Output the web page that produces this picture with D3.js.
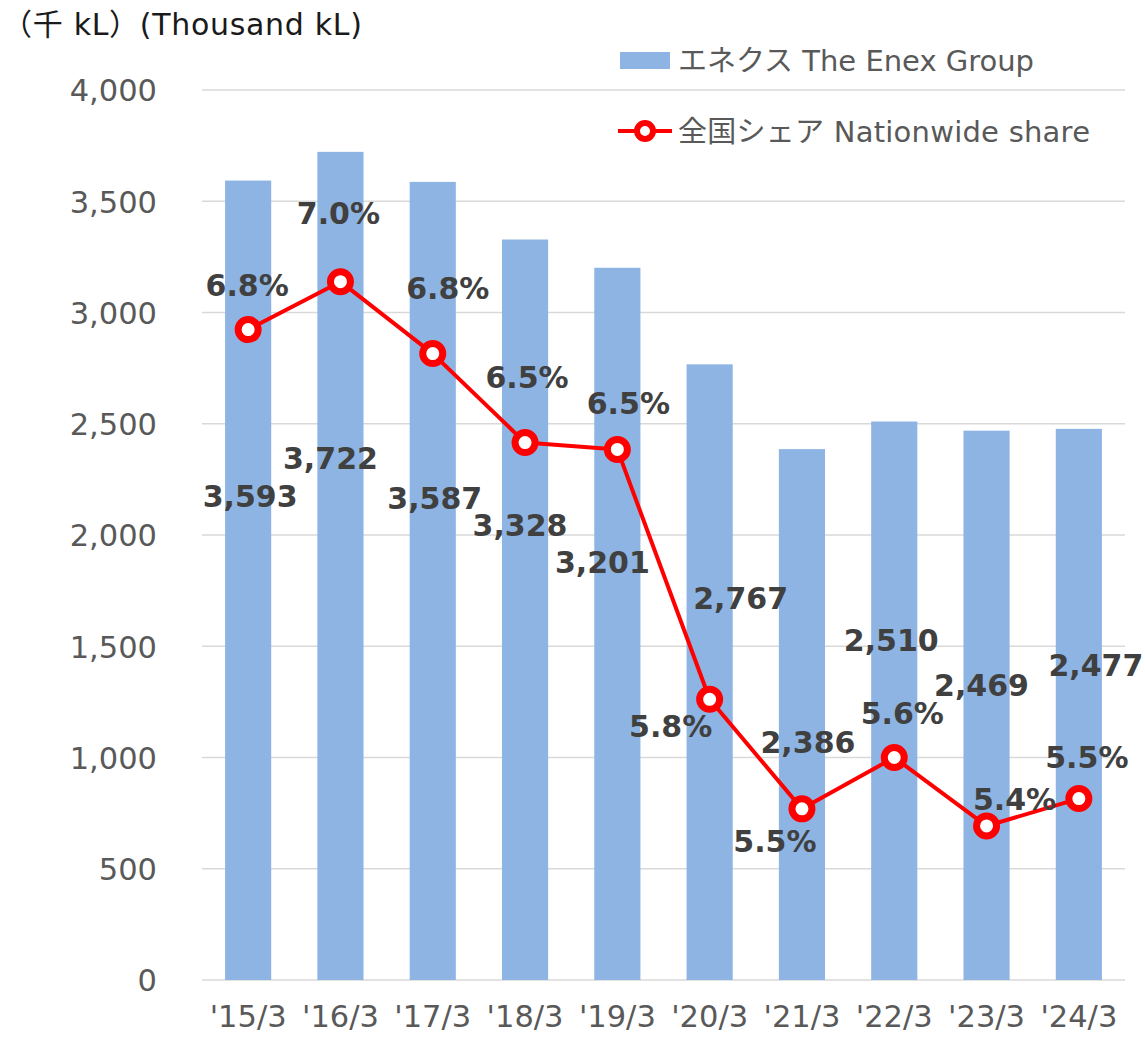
<!DOCTYPE html>
<html><head><meta charset="utf-8">
<script src="https://cdn.jsdelivr.net/npm/d3@7"></script>
<style>
html,body{margin:0;padding:0;background:#fff;}
svg{display:block;font-family:"DejaVu Sans","Noto Sans CJK JP",sans-serif;}
</style></head>
<body>
<svg id="c" width="1145" height="1041"></svg>
<script>
const categories = ["'15/3","'16/3","'17/3","'18/3","'19/3","'20/3","'21/3","'22/3","'23/3","'24/3"];
const volumes = [3593, 3722, 3587, 3328, 3201, 2767, 2386, 2510, 2469, 2477];
const shares = [6.85, 6.99, 6.78, 6.52, 6.50, 5.77, 5.45, 5.60, 5.40, 5.48];
const shareLabels = ["6.8%","7.0%","6.8%","6.5%","6.5%","5.8%","5.5%","5.6%","5.4%","5.5%"];
const yTicks = [0, 500, 1000, 1500, 2000, 2500, 3000, 3500, 4000];
const unitTitle = "（千 kL）(Thousand kL)";
const legendBar = "エネクス The Enex Group";
const legendLine = "全国シェア Nationwide share";

// label placement offsets (px) – styling only
const volLabelOffsets = [[2,316],[-10,306],[2,316],[-5,286],[-15,294],[31,234],[6,293],[-3,219],[-5,255],[17,236]];
const shareLabelOffsets = [[-1,-44],[-2,-68],[15,-65],[2,-65],[11,-46],[-39,27],[-27,32],[8,-44],[28,-27],[8,-41]];

const svg = d3.select("#c");
const plotL = 202, plotR = 1125, plotT = 90, plotB = 980;

const x = d3.scaleBand().domain(categories).range([plotL, plotR]).paddingInner(0.5).paddingOuter(0.25);
const y = d3.scaleLinear().domain([0, 4000]).range([plotB, plotT]);
const y2 = d3.scaleLinear().domain([4.95, 7.55]).range([plotB, plotT]);
const cx = d => x(d) + x.bandwidth()/2;

// gridlines
svg.append("g").selectAll("line").data(yTicks).join("line")
  .attr("x1", plotL).attr("x2", plotR)
  .attr("y1", d => y(d)).attr("y2", d => y(d))
  .attr("stroke", "#d9d9d9").attr("stroke-width", 1.5);

// y axis labels
const yAxis = d3.axisLeft(y).tickValues(yTicks).tickFormat(d3.format(",")).tickSize(0).tickPadding(0);
const ya = svg.append("g").attr("transform", `translate(157,0)`).call(yAxis);
ya.select(".domain").remove();
ya.selectAll("text").attr("font-size", 30.5).attr("fill", "#595959").attr("font-family", "DejaVu Sans").attr("dy", "0.36em");

// x axis labels
const xAxis = d3.axisBottom(x).tickSize(0).tickPadding(0);
const xa = svg.append("g").attr("transform", `translate(0,${plotB})`).call(xAxis);
xa.select(".domain").remove();
xa.selectAll("text").attr("font-size", 30.5).attr("fill", "#595959").attr("font-family", "DejaVu Sans").attr("dy", "1.53em");

// bars
svg.append("g").selectAll("rect").data(volumes).join("rect")
  .attr("x", (d,i) => x(categories[i]))
  .attr("width", x.bandwidth())
  .attr("y", d => y(d))
  .attr("height", d => plotB - y(d))
  .attr("fill", "#8eb4e3");

// line
const line = d3.line().x((d,i) => cx(categories[i])).y(d => y2(d));
svg.append("path").datum(shares).attr("d", line)
  .attr("fill", "none").attr("stroke", "#ff0000").attr("stroke-width", 4).attr("stroke-linejoin", "round");
svg.append("g").selectAll("circle").data(shares).join("circle")
  .attr("cx", (d,i) => cx(categories[i])).attr("cy", d => y2(d)).attr("r", 10)
  .attr("fill", "#fff").attr("stroke", "#ff0000").attr("stroke-width", 7);

// volume labels
svg.append("g").selectAll("text").data(volumes).join("text")
  .attr("x", (d,i) => cx(categories[i]) + volLabelOffsets[i][0])
  .attr("y", (d,i) => y(d) + volLabelOffsets[i][1])
  .attr("dy", "0.36em").attr("text-anchor", "middle")
  .attr("font-size", 30).attr("font-weight", "bold").attr("fill", "#404040")
  .text(d => d3.format(",")(d));

// share labels
svg.append("g").selectAll("text").data(shares).join("text")
  .attr("x", (d,i) => cx(categories[i]) + shareLabelOffsets[i][0])
  .attr("y", (d,i) => y2(d) + shareLabelOffsets[i][1])
  .attr("dy", "0.36em").attr("text-anchor", "middle")
  .attr("font-size", 30).attr("font-weight", "bold").attr("fill", "#404040")
  .text((d,i) => shareLabels[i]);

// title
svg.append("text").attr("x", 2).attr("y", 35).attr("font-size", 30).attr("fill", "#1a1a1a")
  .attr("textLength", 360).attr("lengthAdjust", "spacing").text(unitTitle);

// legend
svg.append("rect").attr("x", 620).attr("y", 52).attr("width", 50).attr("height", 17).attr("fill", "#8eb4e3");
svg.append("text").attr("x", 678).attr("y", 71).attr("font-size", 29).attr("fill", "#595959")
  .attr("textLength", 356).attr("lengthAdjust", "spacing").text(legendBar);
svg.append("line").attr("x1", 618).attr("x2", 672).attr("y1", 131).attr("y2", 131).attr("stroke", "#ff0000").attr("stroke-width", 4);
svg.append("circle").attr("cx", 645).attr("cy", 131).attr("r", 8).attr("fill", "#fff").attr("stroke", "#ff0000").attr("stroke-width", 6);
svg.append("text").attr("x", 678).attr("y", 142).attr("font-size", 29).attr("fill", "#595959")
  .attr("textLength", 412).attr("lengthAdjust", "spacing").text(legendLine);
</script>
</body></html>
